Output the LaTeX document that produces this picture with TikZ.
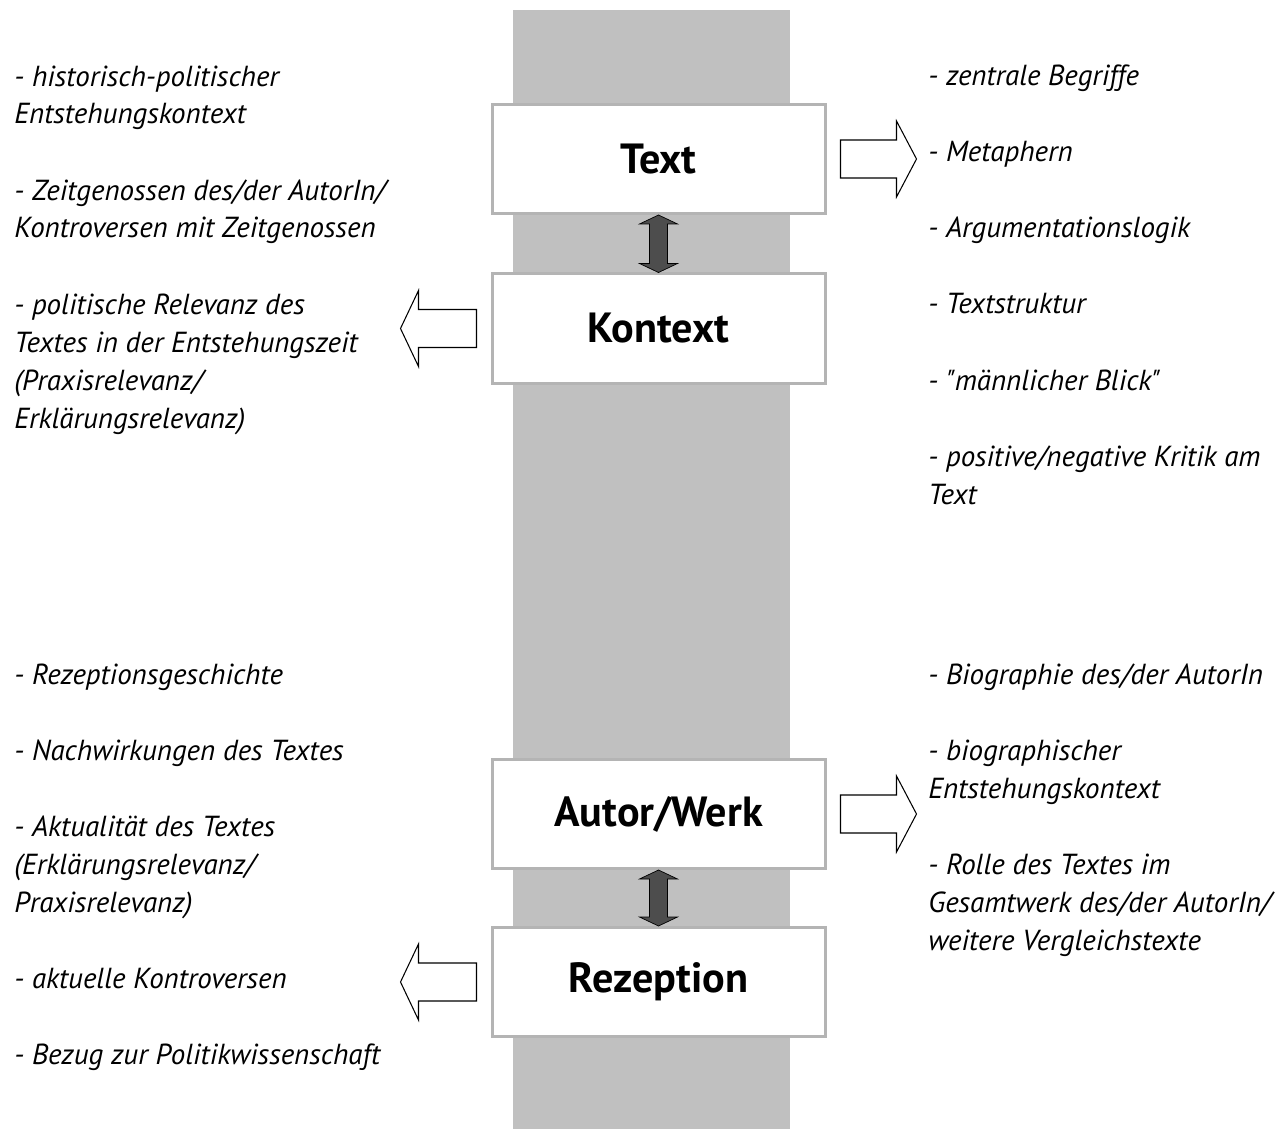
\documentclass[tikz,border=0pt]{standalone}
\usepackage{fontspec}
\setmainfont{PT Sans}
\usepackage{xcolor}
\definecolor{cColumn}{HTML}{C0C0C0}
\definecolor{cFrame}{HTML}{B4B4B4}
\definecolor{cDark}{HTML}{4D4D4D}
\usepackage{tikz}
\usetikzlibrary{calc}
\tikzset{
  stage-box/.style={draw=cFrame,line width=0.6mm,fill=white,
    minimum width=66.6mm,minimum height=21.8mm,
    font=\fontsize{24}{28}\selectfont\bfseries},
  % base = Grundlinie der letzten Zeile
  note/.style={anchor=base west,align=left,inner sep=0pt,
    font=\fontsize{16.5}{21.6}\selectfont\itshape},
  twin-arrow/.style={draw=black,line width=0.4pt,fill=cDark},
  block-arrow/.style={draw=black,line width=0.6pt,fill=white},
}
\begin{document}
\begin{tikzpicture}[x=0.2mm,y=-0.2mm]
  \useasboundingbox (0,0) rectangle (1282,1129);
  \fill[cColumn] (513,10) rectangle (790,1129);
  % Stufen
  \node[stage-box] (text) at (658.5,159) {Text};
  \node[stage-box] (kontext) at (658.5,328.5) {Kontext};
  \node[stage-box] (autor) at (658.5,814) {Autor/Werk};
  \node[stage-box] (rezeption) at (658.5,982) {Rezeption};
  \foreach \a/\b in {text/kontext,autor/rezeption}
    \draw[twin-arrow] (\a.south) -- ++(19,9) -- ++(-10,0)
      -- ($(\b.north)+(9,-9)$) -- ++(10,0) -- (\b.north) -- ++(-19,-9)
      -- ++(10,0) -- ($(\a.south)+(-9,9)$) -- ++(-10,0) -- cycle;
  \foreach \a in {text,autor}
    \draw[block-arrow] ($(\a.east)+(14,-19)$) -- ++(56,0) -- ++(0,-19)
      -- ++(20,38) -- ++(-20,38) -- ++(0,-19) -- ++(-56,0) -- cycle;
  \foreach \a in {kontext,rezeption}
    \draw[block-arrow] ($(\a.west)+(-14,-19)$) -- ++(-58,0) -- ++(0,-19)
      -- ++(-18,38) -- ++(18,38) -- ++(0,-19) -- ++(58,0) -- cycle;
  % Kontext links oben
  \node[note] (hist) at (14,124) {- historisch-politischer\\Entstehungskontext};
  \node[note] (zeit) at (14,238) {- Zeitgenossen des/der AutorIn/\\Kontroversen mit Zeitgenossen};
  \node[note] (relev) at (14,428) {- politische Relevanz des\\Textes in der Entstehungszeit\\(Praxisrelevanz/\\Erklärungsrelevanz)};
  % Text rechts oben
  \node[note] (begr) at (928,86) {- zentrale Begriffe};
  \node[note] (meta) at (928,162) {- Metaphern};
  \node[note] (arg) at (928,238) {- Argumentationslogik};
  \node[note] (struk) at (928,314) {- Textstruktur};
  \node[note] (blick) at (928,390) {- \textquotedbl männlicher Blick\textquotedbl};
  \node[note] (krit) at (928,504) {- positive/negative Kritik am\\Text};
  % Rezeption links unten
  \node[note] (gesch) at (14,684) {- Rezeptionsgeschichte};
  \node[note] (nachw) at (14,760) {- Nachwirkungen des Textes};
  \node[note] (aktu) at (14,912) {- Aktualität des Textes\\(Erklärungsrelevanz/\\Praxisrelevanz)};
  \node[note] (kontr) at (14,988) {- aktuelle Kontroversen};
  \node[note] (bezug) at (14,1064) {- Bezug zur Politikwissenschaft};
  % Autor/Werk rechts unten
  \node[note] (bio) at (928,684) {- Biographie des/der AutorIn};
  \node[note] (biokon) at (928,798) {- biographischer\\Entstehungskontext};
  \node[note] (rolle) at (928,950) {- Rolle des Textes im\\Gesamtwerk des/der AutorIn/\\weitere Vergleichstexte};
\end{tikzpicture}
\end{document}
